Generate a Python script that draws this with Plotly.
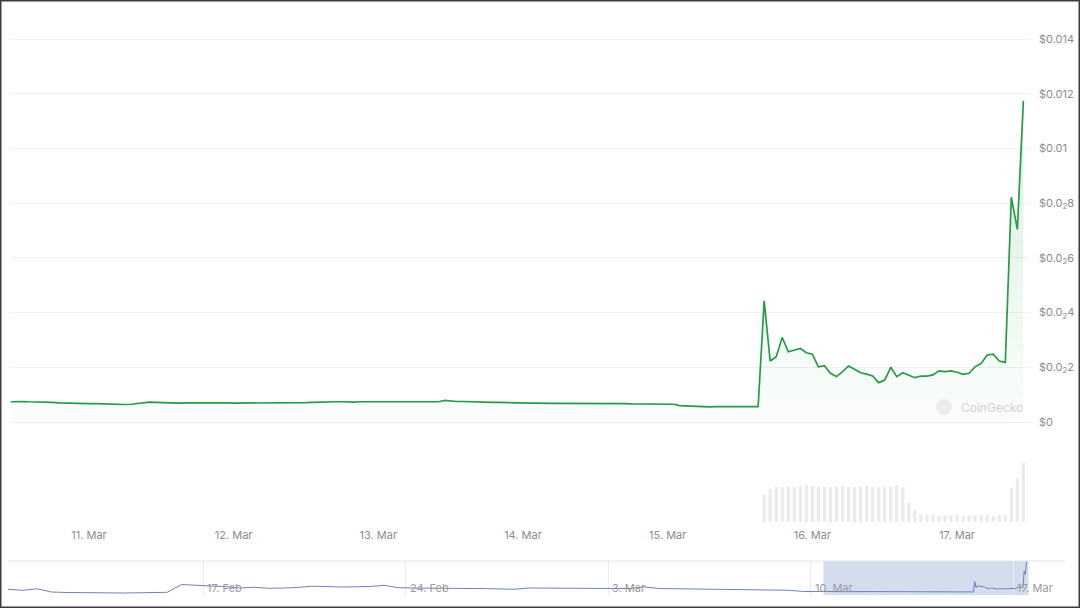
import plotly.graph_objects as go
import pandas as pd

# ---------------- data ----------------
# hourly price (USD) from 10 Mar 2025 11:00 to 17 Mar 2025 11:00
price_start = "2025-03-10 11:00"
price = [
    0.00074, 0.00075, 0.00075, 0.00074, 0.00074, 0.00073, 0.00073, 0.00072,
    0.00070, 0.00069, 0.00068, 0.00068, 0.00068, 0.00067, 0.00067, 0.00066, 0.00066, 0.00065, 0.00064, 0.00064,
    0.00065, 0.00067, 0.00071, 0.00073, 0.00072, 0.00071, 0.00070, 0.00069, 0.00069, 0.00070, 0.00070,
    0.00071, 0.00071, 0.00072, 0.00071, 0.00071, 0.00070, 0.00069, 0.00069, 0.00070, 0.00070,
    0.00071, 0.00070, 0.00069, 0.00070, 0.00070, 0.00071, 0.00071, 0.00070, 0.00071, 0.00072,
    0.00073, 0.00073, 0.00073, 0.00074, 0.00074, 0.00073, 0.00073, 0.00074, 0.00074, 0.00074, 0.00075,
    0.00074, 0.00074, 0.00073, 0.00074, 0.00074, 0.00075, 0.00074, 0.00074, 0.00073, 0.00074, 0.00079,
    0.00076, 0.00075, 0.00075, 0.00074, 0.00074, 0.00073, 0.00072, 0.00072, 0.00072, 0.00071, 0.00071, 0.00070, 0.00070,
    0.00069, 0.00069, 0.00068, 0.00068, 0.00068, 0.00068, 0.00068, 0.00068, 0.00068, 0.00069, 0.00069, 0.00069, 0.00068,
    0.00068, 0.00067, 0.00067, 0.00067, 0.00066, 0.00066, 0.00066, 0.00066, 0.00066, 0.00066, 0.00065, 0.00065,
    0.00060, 0.00059, 0.00057, 0.00055, 0.00054, 0.00055, 0.00056, 0.00056, 0.00056, 0.00056, 0.00057, 0.00056, 0.00056, 0.00056,
    0.00443, 0.00223, 0.00239, 0.00309, 0.00257, 0.00263, 0.00269, 0.00253, 0.00248, 0.00202, 0.00206,
    0.00178, 0.00166, 0.00184, 0.00205, 0.00193, 0.00180, 0.00175, 0.00168, 0.00144, 0.00153, 0.00200,
    0.00166, 0.00180, 0.00172, 0.00162, 0.00168, 0.00168, 0.00172, 0.00187, 0.00184, 0.00187, 0.00182,
    0.00174, 0.00178, 0.00202, 0.00214, 0.00245, 0.00248, 0.00223, 0.00218, 0.00822, 0.00704, 0.01174,
]

# hourly 24h-volume bars (thousand USD), from 15 Mar 2025 16:00 onward
volume_start = "2025-03-15 16:00"
volume = [
    27, 33, 35, 35, 35, 35, 36, 37, 36, 35, 35, 35, 35, 36, 35, 35, 35, 36, 35, 35, 35, 35, 37, 35,
    20, 12, 8,
    7, 7, 6, 7, 7, 7, 6, 7, 7, 7, 7, 6, 7, 7,
    34, 44, 59,
]

# navigator: 12-hourly price from 10 Feb 2025 06:00 up to 9 Mar 18:00 (then the hourly series)
nav_start = "2025-02-10 06:00"
nav_price = [
    0.00153, 0.00117, 0.00172, 0.00054, 0.00036, 0.00028, 0.00017, 0.00024, 0.00017, 0.00024,
    0.00032, 0.00043, 0.00330, 0.00293, 0.00275, 0.00257, 0.00201, 0.00227, 0.00190, 0.00201,
    0.00220, 0.00268, 0.00245, 0.00238, 0.00245, 0.00257, 0.00301, 0.00212, 0.00201, 0.00190,
    0.00190, 0.00187, 0.00183, 0.00179, 0.00172, 0.00153, 0.00201, 0.00194, 0.00190, 0.00190,
    0.00187, 0.00187, 0.00183, 0.00183, 0.00242, 0.00183, 0.00179, 0.00172, 0.00164, 0.00153,
    0.00146, 0.00135, 0.00128, 0.00124, 0.00117, 0.00072,
]
nav_tick_dates = ["2025-02-17", "2025-02-24", "2025-03-03", "2025-03-10", "2025-03-17"]
nav_tick_labels = ["17. Feb", "24. Feb", "3. Mar", "10. Mar", "17. Mar"]

y_tickvals = [0, 0.002, 0.004, 0.006, 0.008, 0.010, 0.012, 0.014]
y_ticktext = ["$0", "$0.0<sub>2</sub>2", "$0.0<sub>2</sub>4", "$0.0<sub>2</sub>6",
              "$0.0<sub>2</sub>8", "$0.01", "$0.012", "$0.014"]

# ---------------- build ----------------
W, H = 1080, 608
def px_x(p): return p / W
def px_y(p): return 1 - p / H

price_times = pd.date_range(price_start, periods=len(price), freq="h")
volume_times = pd.date_range(volume_start, periods=len(volume), freq="h")
nav_times = list(pd.date_range(nav_start, periods=len(nav_price), freq="12h")) + list(price_times)
nav_values = nav_price + price

GREEN = "#259c45"
FONT_FAMILY = "Inter, Liberation Sans, sans-serif"
TICK_FONT = dict(family=FONT_FAMILY, size=11, color="#8c8c8c")

fig = go.Figure()

fig.add_trace(go.Bar(
    x=volume_times, y=volume, xaxis="x", yaxis="y2",
    marker=dict(color="#ebebeb", line=dict(width=0)),
    hoverinfo="skip",
))

fig.add_trace(go.Scatter(
    x=price_times, y=price, xaxis="x", yaxis="y",
    mode="lines", line=dict(color=GREEN, width=1.7),
    fill="tozeroy",
    fillgradient=dict(type="vertical", start=0, stop=0.0118,
                      colorscale=[[0, "rgba(37,156,69,0.02)"], [1, "rgba(37,156,69,0.17)"]]),
    hoverinfo="skip",
))

fig.add_trace(go.Scatter(
    x=nav_times, y=nav_values, xaxis="x3", yaxis="y3",
    mode="lines", line=dict(color="#6f82b8", width=1),
    hoverinfo="skip",
))

annotations = [
    dict(text="CoinGecko", xref="paper", yref="paper",
         x=px_x(959), y=px_y(407), xanchor="left", yanchor="middle",
         showarrow=False, font=dict(family=FONT_FAMILY, size=12, color="#d2d2d2")),
]
for d, lab in zip(nav_tick_dates, nav_tick_labels):
    annotations.append(dict(
        text=lab, xref="x3", yref="paper", x=d, y=px_y(588),
        xanchor="left", yanchor="middle", xshift=2, showarrow=False,
        font=dict(family=FONT_FAMILY, size=11, color="#9a9a9a"),
    ))

fig.update_layout(
    width=W, height=H,
    margin=dict(l=0, r=0, t=0, b=0),
    paper_bgcolor="white", plot_bgcolor="white",
    showlegend=False, bargap=0.45,
    xaxis=dict(
        domain=[px_x(10), px_x(1030)], anchor="y2",
        range=["2025-03-10 10:54", "2025-03-17 12:06"],
        showgrid=False, zeroline=False, showline=False, ticks="",
        tick0="2025-03-11", dtick=86400000, tickformat="%-d. %b",
        tickfont=TICK_FONT, ticklabelstandoff=5,
    ),
    yaxis=dict(
        domain=[px_y(430), px_y(30)], anchor="x", side="right",
        range=[-0.000292, 0.014329],
        tickvals=y_tickvals, ticktext=y_ticktext,
        gridcolor="#f0f0f0", gridwidth=1, zeroline=False, showline=False, ticks="",
        tickfont=TICK_FONT, ticklabelstandoff=8,
    ),
    yaxis2=dict(
        domain=[px_y(522), px_y(460)], anchor="x",
        range=[0, 62], visible=False,
    ),
    xaxis3=dict(
        domain=[px_x(8), px_x(1030)], anchor="y3",
        range=["2025-02-10 06:00", "2025-03-17 13:51"],
        tickvals=nav_tick_dates, showticklabels=False, ticks="",
        showgrid=True, gridcolor="#ececec", zeroline=False, showline=False,
    ),
    yaxis3=dict(
        domain=[px_y(595), px_y(561)], anchor="x3",
        range=[-0.000565, 0.01196], visible=False,
    ),
    shapes=[
        # navigator selection
        dict(type="rect", xref="x3", yref="paper",
             x0="2025-03-10 10:30", x1="2025-03-17 12:30",
             y0=px_y(595), y1=px_y(561),
             fillcolor="rgba(102,133,194,0.28)", line=dict(width=0), layer="below"),
        # navigator top outline
        dict(type="line", xref="paper", yref="paper",
             x0=px_x(8), x1=px_x(1065), y0=px_y(561), y1=px_y(561),
             line=dict(color="#e3e3e3", width=1)),
        # watermark logo
        dict(type="circle", xref="paper", yref="paper",
             x0=px_x(936), x1=px_x(952), y0=px_y(415), y1=px_y(399),
             fillcolor="#eeeeee", line=dict(width=0), layer="below"),
        # outer frame
        dict(type="rect", xref="paper", yref="paper", x0=0, x1=1, y0=0, y1=1,
             line=dict(color="#3c3c3c", width=3)),
    ],
    annotations=annotations,
)

fig.write_html(
    "out.html",
    config={"displayModeBar": False},
    post_script="document.body.style.margin='0';document.body.style.overflow='hidden';",
)
